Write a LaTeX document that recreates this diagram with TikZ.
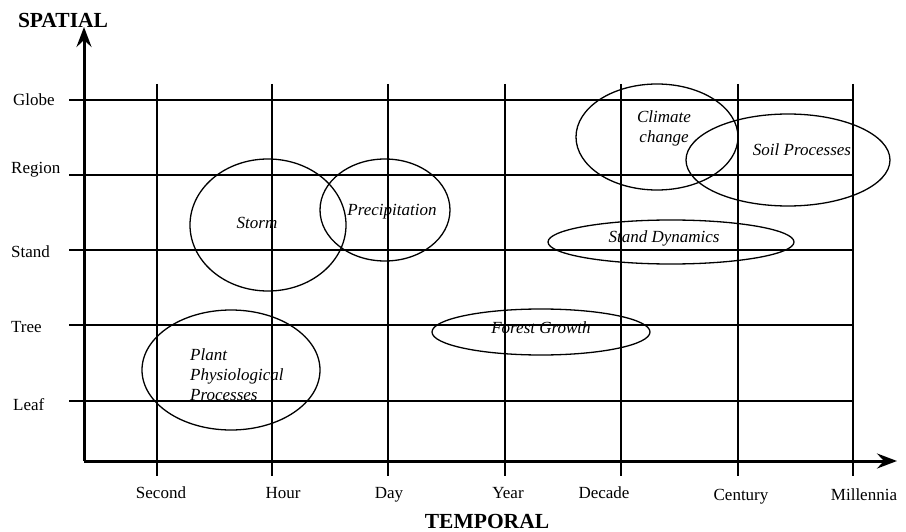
\documentclass[tikz,border=0pt]{standalone}
\usepackage{fontspec}
\setmainfont{Liberation Serif}
\usetikzlibrary{arrows.meta,shapes.geometric}
\begin{document}
\begin{tikzpicture}[x=1pt,y=-1pt,
  grid/.style={line width=1.6pt},
  axisline/.style={line width=3pt,-{Stealth[length=20pt,width=15pt,inset=7pt]}},
  blob/.style={draw,ellipse,line width=1.3pt,inner sep=0pt},
  lbl/.style={font=\fontsize{17}{20}\selectfont,inner sep=0pt},
  txt/.style={font=\fontsize{17}{20}\selectfont\itshape,inner sep=0pt},
  ttl/.style={font=\fontsize{21.5}{24}\selectfont\bfseries,inner sep=0pt}]
\useasboundingbox (0,0) rectangle (906,532);
% grid
\foreach \y/\n in {100/Globe,175/Region,250/Stand,325/Tree,401/Leaf}{
  \coordinate (hl\n) at (69,\y);
  \coordinate (hr\n) at (853,\y);
  \draw[grid] (hl\n) -- (hr\n);
}
\foreach \x/\n in {157/Second,272/Hour,388/Day,505/Year,621/Decade,738/Century,853/Millennia}{
  \coordinate (vt\n) at (\x,84);
  \coordinate (vb\n) at (\x,476);
  \draw[grid] (vt\n) -- (vb\n);
}
% axes
\coordinate (o) at (84,461);
\coordinate (ytip) at (84,27);
\coordinate (xtip) at (897,461);
\draw[axisline] (o) -- (ytip);
\draw[axisline] (o) -- (xtip);
% left labels
\node[lbl,anchor=base west] (lGlobe) at (13,106) {Globe};
\node[lbl,anchor=base west] (lRegion) at (11,174) {Region};
\node[lbl,anchor=base west] (lStand) at (11,258) {Stand};
\node[lbl,anchor=base west] (lTree) at (11,332) {Tree};
\node[lbl,anchor=base west] (lLeaf) at (13,410) {Leaf};
% bottom labels
\node[lbl,anchor=base] (bSecond) at (161,498) {Second};
\node[lbl,anchor=base] (bHour) at (283,498) {Hour};
\node[lbl,anchor=base] (bDay) at (389,498) {Day};
\node[lbl,anchor=base] (bYear) at (508,498) {Year};
\node[lbl,anchor=base] (bDecade) at (604,498) {Decade};
\node[lbl,anchor=base] (bCentury) at (741,500) {Century};
\node[lbl,anchor=base] (bMillennia) at (864,500) {Millennia};
% titles
\node[ttl] (spatial) at (63,20) {SPATIAL};
\node[ttl] (temporal) at (487,521) {TEMPORAL};
% ellipses
\node[blob,minimum width=156pt,minimum height=132pt] (storm) at (268,225) {};
\node[txt] (tstorm) at (257,223) {Storm};
\node[blob,minimum width=130pt,minimum height=102pt] (precip) at (385,210) {};
\node[txt] (tprecip) at (392,212) {Precipitation};
\node[blob,minimum width=178pt,minimum height=120pt] (plant) at (231,370) {};
\node[txt,align=left,anchor=north west,font=\fontsize{17}{20}\selectfont\itshape] (tplant) at (190,349) {Plant\\Physiological\\Processes};
\node[blob,minimum width=218pt,minimum height=46pt] (forest) at (541,332) {};
\node[txt] (tforest) at (541,328) {Forest Growth};
\node[blob,minimum width=246pt,minimum height=44pt] (stand) at (671,242) {};
\node[txt] (tstand) at (664,238) {Stand Dynamics};
\node[blob,minimum width=162pt,minimum height=106pt] (climate) at (657,137) {};
\node[txt,align=center,font=\fontsize{17}{20}\selectfont\itshape] (tclimate) at (664,128) {Climate\\change};
\node[blob,minimum width=204pt,minimum height=92pt] (soil) at (788,160) {};
\node[txt] (tsoil) at (802,150) {Soil Processes};
\end{tikzpicture}
\end{document}
